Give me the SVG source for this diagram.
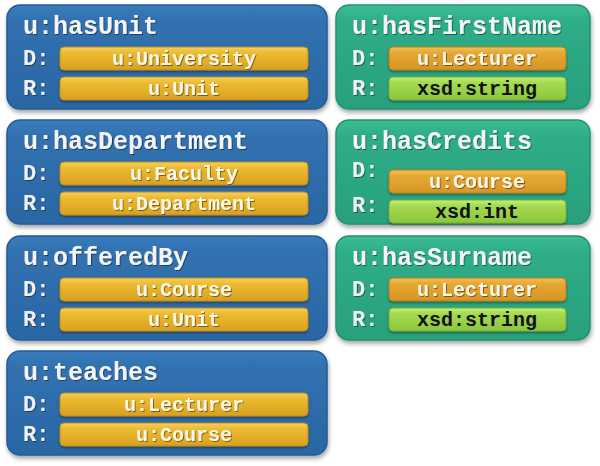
<svg xmlns="http://www.w3.org/2000/svg" width="600" height="466" viewBox="0 0 600 466">
<defs>
<linearGradient id="gBlue" x1="0" y1="0" x2="0" y2="1">
<stop offset="0" stop-color="#3A7CBD"/><stop offset="0.15" stop-color="#3171B0"/><stop offset="1" stop-color="#2A67A4"/>
</linearGradient>
<linearGradient id="gGreen" x1="0" y1="0" x2="0" y2="1">
<stop offset="0" stop-color="#3CBD95"/><stop offset="0.15" stop-color="#2FAD88"/><stop offset="1" stop-color="#28A07E"/>
</linearGradient>
<linearGradient id="gYel" x1="0" y1="0" x2="0" y2="1">
<stop offset="0" stop-color="#F5D060"/><stop offset="0.25" stop-color="#ECBB30"/><stop offset="1" stop-color="#D8A020"/>
</linearGradient>
<linearGradient id="gOra" x1="0" y1="0" x2="0" y2="1">
<stop offset="0" stop-color="#F2C25A"/><stop offset="0.25" stop-color="#E6A834"/><stop offset="1" stop-color="#D69526"/>
</linearGradient>
<linearGradient id="gLime" x1="0" y1="0" x2="0" y2="1">
<stop offset="0" stop-color="#C6EE7A"/><stop offset="0.25" stop-color="#A4DA50"/><stop offset="1" stop-color="#8CC63C"/>
</linearGradient>
<filter id="sh" x="-10%" y="-10%" width="120%" height="130%">
<feDropShadow dx="1" dy="3" stdDeviation="2" flood-color="#000" flood-opacity="0.35"/>
</filter>
<filter id="bsh" x="-5%" y="-20%" width="110%" height="160%">
<feDropShadow dx="0" dy="1.5" stdDeviation="1" flood-color="#000" flood-opacity="0.4"/>
</filter>
<filter id="tsh" x="-5%" y="-20%" width="110%" height="160%">
<feDropShadow dx="1" dy="1" stdDeviation="0.6" flood-color="#000" flood-opacity="0.45"/>
</filter>
</defs>
<style>
.blue{fill:url(#gBlue);stroke:#245C96;stroke-width:1.5;filter:url(#sh)}
.green{fill:url(#gGreen);stroke:#24936F;stroke-width:1.5;filter:url(#sh)}
.yel{fill:url(#gYel);stroke:#C08A18;stroke-width:1;filter:url(#bsh)}
.ora{fill:url(#gOra);stroke:#B87E1A;stroke-width:1;filter:url(#bsh)}
.lime{fill:url(#gLime);stroke:#78AE30;stroke-width:1;filter:url(#bsh)}
text{font-family:"Liberation Mono","Courier New",monospace;font-weight:bold}
.title{font-size:25px;fill:#F4F4F4;filter:url(#tsh)}
.lab{font-size:22px;fill:#F0F0F0;filter:url(#tsh)}
.bt{font-size:20px;fill:#FAF6E8;text-anchor:middle;filter:url(#tsh)}
.bk{font-size:20px;fill:#111;text-anchor:middle}
</style>
<g id="connectors"/>
<g id="hasUnit">
<rect class="blue" x="7" y="5" width="320" height="104" rx="13"/>
<text class="title" x="23" y="34">u:hasUnit</text>
<text class="lab" x="23" y="65">D:</text>
<text class="lab" x="23" y="95">R:</text>
<rect class="yel" x="60" y="47" width="248" height="23" rx="4"/>
<text class="bt" x="184" y="65">u:University</text>
<rect class="yel" x="60" y="77" width="248" height="23" rx="4"/>
<text class="bt" x="184" y="95">u:Unit</text>
</g>
<g id="hasDepartment">
<rect class="blue" x="7" y="120" width="320" height="104" rx="13"/>
<text class="title" x="23" y="149">u:hasDepartment</text>
<text class="lab" x="23" y="180">D:</text>
<text class="lab" x="23" y="210">R:</text>
<rect class="yel" x="60" y="162" width="248" height="23" rx="4"/>
<text class="bt" x="184" y="180">u:Faculty</text>
<rect class="yel" x="60" y="192" width="248" height="23" rx="4"/>
<text class="bt" x="184" y="210">u:Department</text>
</g>
<g id="offeredBy">
<rect class="blue" x="7" y="236" width="320" height="104" rx="13"/>
<text class="title" x="23" y="265">u:offeredBy</text>
<text class="lab" x="23" y="296">D:</text>
<text class="lab" x="23" y="326">R:</text>
<rect class="yel" x="60" y="278" width="248" height="23" rx="4"/>
<text class="bt" x="184" y="296">u:Course</text>
<rect class="yel" x="60" y="308" width="248" height="23" rx="4"/>
<text class="bt" x="184" y="326">u:Unit</text>
</g>
<g id="teaches">
<rect class="blue" x="7" y="351" width="320" height="104" rx="13"/>
<text class="title" x="23" y="380">u:teaches</text>
<text class="lab" x="23" y="411">D:</text>
<text class="lab" x="23" y="441">R:</text>
<rect class="yel" x="60" y="393" width="248" height="23" rx="4"/>
<text class="bt" x="184" y="411">u:Lecturer</text>
<rect class="yel" x="60" y="423" width="248" height="23" rx="4"/>
<text class="bt" x="184" y="441">u:Course</text>
</g>
<g id="hasFirstName">
<rect class="green" x="336" y="5" width="254" height="104" rx="13"/>
<text class="title" x="352" y="34">u:hasFirstName</text>
<text class="lab" x="352" y="65">D:</text>
<text class="lab" x="352" y="95">R:</text>
<rect class="ora" x="389" y="47" width="177" height="23" rx="4"/>
<text class="bt" x="477" y="65">u:Lecturer</text>
<rect class="lime" x="389" y="77" width="177" height="23" rx="4"/>
<text class="bk" x="477" y="95">xsd:string</text>
</g>
<g id="hasCredits">
<rect class="green" x="336" y="120" width="254" height="104" rx="13"/>
<text class="title" x="352" y="149">u:hasCredits</text>
<text class="lab" x="352" y="177">D:</text>
<text class="lab" x="352" y="212">R:</text>
<rect class="ora" x="389" y="170" width="177" height="23" rx="4"/>
<text class="bt" x="477" y="188">u:Course</text>
<rect class="lime" x="389" y="200" width="177" height="23" rx="4"/>
<text class="bk" x="477" y="218">xsd:int</text>
</g>
<g id="hasSurname">
<rect class="green" x="336" y="236" width="254" height="104" rx="13"/>
<text class="title" x="352" y="265">u:hasSurname</text>
<text class="lab" x="352" y="296">D:</text>
<text class="lab" x="352" y="326">R:</text>
<rect class="ora" x="389" y="278" width="177" height="23" rx="4"/>
<text class="bt" x="477" y="296">u:Lecturer</text>
<rect class="lime" x="389" y="308" width="177" height="23" rx="4"/>
<text class="bk" x="477" y="326">xsd:string</text>
</g>
</svg>
